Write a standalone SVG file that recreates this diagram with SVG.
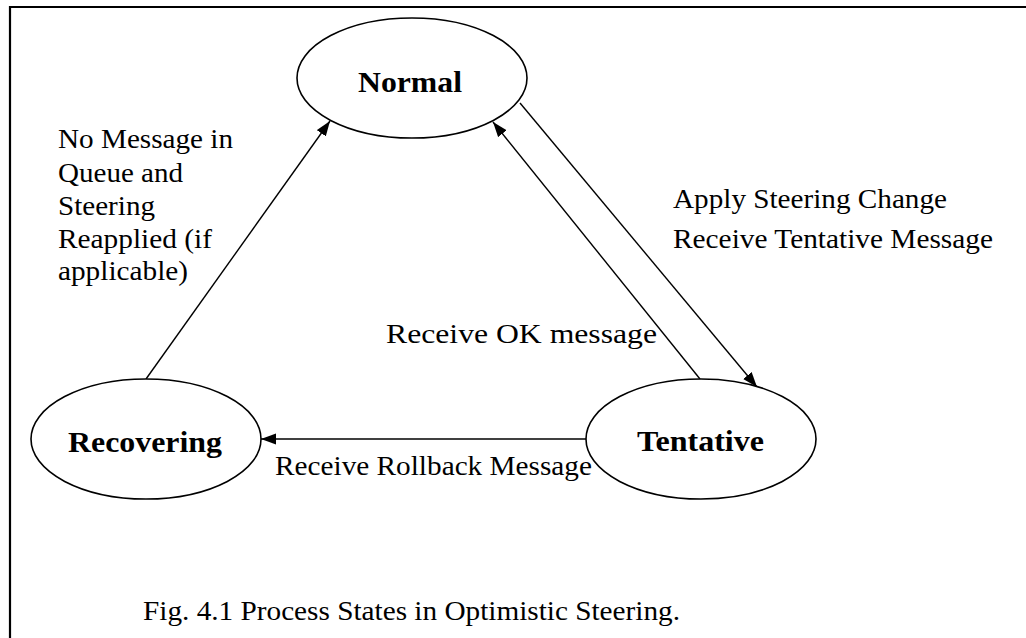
<svg xmlns="http://www.w3.org/2000/svg" width="1026" height="638" viewBox="0 0 1026 638">
  <style>
    .state { fill: #ffffff; stroke: #000000; stroke-width: 1.6; }
    .name { font-family: "Liberation Serif", "Times New Roman", serif; font-weight: bold; font-size: 30px; fill: #000000; }
    .label { font-family: "Liberation Serif", "Times New Roman", serif; font-size: 28px; fill: #000000; }
    .edge { fill: none; stroke: #000000; stroke-width: 1.4; }
    .frame { fill: none; stroke: #000000; stroke-width: 2.2; }
  </style>
  <defs>
    <marker id="arrow" markerUnits="userSpaceOnUse" markerWidth="16" markerHeight="12" refX="15" refY="6" orient="auto">
      <path d="M0,0.5 L15,6 L0,11.5 z" fill="#000000"/>
    </marker>
  </defs>

  <rect width="1026" height="638" fill="#ffffff"/>

  <!-- figure frame (open on the right and bottom) -->
  <path class="frame" d="M10,640 L10,7 L1030,7"/>

  <!-- transitions -->
  <g id="connectors">
    <line class="edge" x1="146" y1="379" x2="330" y2="121" marker-end="url(#arrow)"/>
    <line class="edge" x1="700" y1="379" x2="493" y2="122" marker-end="url(#arrow)"/>
    <line class="edge" x1="520" y1="103" x2="757" y2="387" marker-end="url(#arrow)"/>
    <line class="edge" x1="586" y1="439" x2="261" y2="439" marker-end="url(#arrow)"/>
  </g>

  <!-- states -->
  <g id="normal">
    <ellipse class="state" cx="412" cy="78" rx="115" ry="60"/>
    <text class="name" x="358" y="92" textLength="104" lengthAdjust="spacingAndGlyphs">Normal</text>
  </g>
  <g id="recovering">
    <ellipse class="state" cx="146" cy="439" rx="115" ry="60"/>
    <text class="name" x="68" y="452" textLength="154" lengthAdjust="spacingAndGlyphs">Recovering</text>
  </g>
  <g id="tentative">
    <ellipse class="state" cx="701" cy="439" rx="115" ry="60"/>
    <text class="name" x="637" y="451" textLength="127" lengthAdjust="spacingAndGlyphs">Tentative</text>
  </g>

  <!-- transition labels -->
  <g id="labels">
    <text class="label" x="58" y="148" textLength="175" lengthAdjust="spacingAndGlyphs">No Message in</text>
    <text class="label" x="58" y="182" textLength="125" lengthAdjust="spacingAndGlyphs">Queue and</text>
    <text class="label" x="58" y="215" textLength="97" lengthAdjust="spacingAndGlyphs">Steering</text>
    <text class="label" x="58" y="248" textLength="154" lengthAdjust="spacingAndGlyphs">Reapplied (if</text>
    <text class="label" x="58" y="280" textLength="130" lengthAdjust="spacingAndGlyphs">applicable)</text>

    <text class="label" x="673" y="208" textLength="274" lengthAdjust="spacingAndGlyphs">Apply Steering Change</text>
    <text class="label" x="673" y="248" textLength="320" lengthAdjust="spacingAndGlyphs">Receive Tentative Message</text>

    <text class="label" x="386" y="343" textLength="271" lengthAdjust="spacingAndGlyphs">Receive OK message</text>

    <text class="label" x="275" y="475" textLength="317" lengthAdjust="spacingAndGlyphs">Receive Rollback Message</text>
  </g>

  <!-- caption -->
  <text id="caption" class="label" x="143" y="620" textLength="537" lengthAdjust="spacingAndGlyphs">Fig. 4.1 Process States in Optimistic Steering.</text>
</svg>
